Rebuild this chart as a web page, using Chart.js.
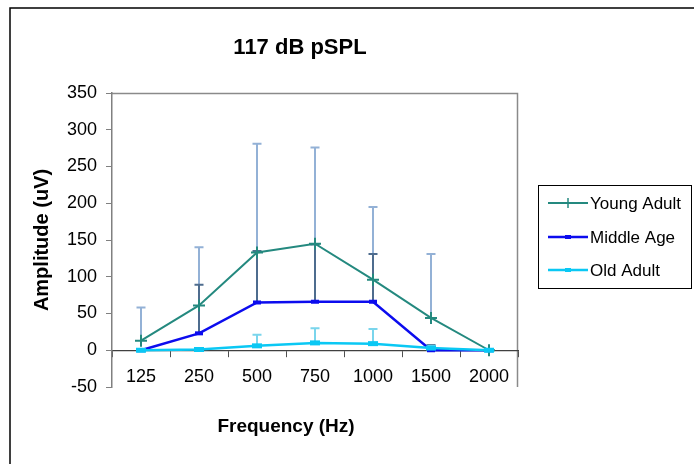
<!DOCTYPE html>
<html><head><meta charset="utf-8">
<script src="https://cdn.jsdelivr.net/npm/chart.js@4"></script>
<style>html,body{margin:0;padding:0;background:#fff}canvas{display:block}</style>
</head><body>
<canvas id="c" width="694" height="464"></canvas>
<script>
const categories = ['125', '250', '500', '750', '1000', '1500', '2000'];
const seriesNames = ['Young Adult', 'Middle Age', 'Old Adult'];
const youngAdult = [13, 61, 133, 145, 96, 44, 0];
const middleAge = [0, 23, 65, 66, 66, 0, 0];
const oldAdult = [0, 1, 6, 10, 9, 3, 0];
const youngAdultErr = [45, 79, 148, 131, 99, 87, 0];
const middleAgeErr = [0, 66, 70, 78, 65, 7, 0];
const oldAdultErr = [0, 0, 15, 20, 20, 3, 0];
const yMin = -50, yMax = 350, yStep = 50;
const chartTitle = '117 dB pSPL';
const xTitle = 'Frequency (Hz)';
const yTitle = 'Amplitude (uV)';

const FONT = "'Liberation Sans', Arial, sans-serif";
const colors = ['#24897F', '#0C0CEE', '#0AC8F4'];
const errColors = ['#93B1D6', '#4E6C8E', '#7AD5EC'];
const errors = [youngAdultErr, middleAgeErr, oldAdultErr];

const decorPlugin = {
  id: 'decor',
  beforeDraw(chart) {
    const ctx = chart.ctx;
    ctx.save();
    ctx.strokeStyle = '#000';
    ctx.lineWidth = 1.5;
    ctx.strokeRect(10, 8, 720, 500);
    const a = chart.chartArea;
    ctx.strokeStyle = '#8a8a8a';
    ctx.lineWidth = 1.5;
    ctx.beginPath();
    ctx.moveTo(a.left, a.top + 0.5);
    ctx.lineTo(a.right - 0.5, a.top + 0.5);
    ctx.lineTo(a.right - 0.5, a.bottom);
    ctx.stroke();
    ctx.restore();
  },
  beforeDatasetsDraw(chart) {
    const ctx = chart.ctx;
    const y = chart.scales.y;
    ctx.save();
    ctx.lineWidth = 2;
    for (let d = 0; d < errors.length; d++) {
      const meta = chart.getDatasetMeta(d);
      const vals = chart.data.datasets[d].data;
      ctx.strokeStyle = errColors[d];
      meta.data.forEach((pt, i) => {
        const e = errors[d][i];
        if (!e) return;
        const y0 = y.getPixelForValue(vals[i]);
        const y1 = y.getPixelForValue(vals[i] + e);
        const x = Math.round(pt.x);
        ctx.beginPath();
        ctx.moveTo(x, y0);
        ctx.lineTo(x, y1);
        ctx.moveTo(x - 4.5, y1);
        ctx.lineTo(x + 4.5, y1);
        ctx.stroke();
      });
    }
    ctx.restore();
  },
  afterDraw(chart) {
    const ctx = chart.ctx;
    const a = chart.chartArea;
    ctx.save();
    ctx.fillStyle = '#000';
    ctx.font = 'bold 22px ' + FONT;
    ctx.textAlign = 'center';
    ctx.textBaseline = 'alphabetic';
    ctx.fillText(chartTitle, 300, 54);
    ctx.font = 'bold 19px ' + FONT;
    ctx.fillText(xTitle, 286, 432);
    ctx.save();
    ctx.translate(48, (a.top + a.bottom) / 2);
    ctx.rotate(-Math.PI / 2);
    ctx.font = 'bold 20px ' + FONT;
    ctx.fillText(yTitle, 0, 0);
    ctx.restore();
    ctx.strokeStyle = '#000';
    ctx.lineWidth = 1;
    ctx.strokeRect(538.5, 185.5, 153, 103);
    const rows = [203, 237, 270];
    ctx.font = '17px ' + FONT;
    ctx.textAlign = 'left';
    ctx.textBaseline = 'middle';
    chart.data.datasets.forEach((ds, i) => {
      const yy = rows[i];
      ctx.strokeStyle = ds.borderColor;
      ctx.lineWidth = ds.borderWidth;
      ctx.beginPath();
      ctx.moveTo(548, yy);
      ctx.lineTo(588, yy);
      ctx.stroke();
      ctx.lineWidth = 1.5;
      if (i === 0) {
        ctx.beginPath();
        ctx.moveTo(568, yy - 5); ctx.lineTo(568, yy + 5);
        ctx.stroke();
      } else {
        ctx.fillStyle = ds.borderColor;
        ctx.fillRect(565, yy - 2, 6, 4);
      }
      ctx.fillStyle = '#000';
      ctx.fillText(ds.label, 590, yy + 1);
    });
    ctx.restore();
  }
};

new Chart(document.getElementById('c'), {
  type: 'line',
  data: {
    labels: categories,
    datasets: [
      { label: seriesNames[0], data: youngAdult, borderColor: colors[0], backgroundColor: colors[0],
        borderWidth: 2, pointStyle: 'cross', pointRadius: 6, pointBorderWidth: 2, order: 2, tension: 0 },
      { label: seriesNames[1], data: middleAge, borderColor: colors[1], backgroundColor: colors[1],
        borderWidth: 2.5, pointStyle: 'line', pointRadius: 4, pointBorderWidth: 4, order: 1, tension: 0 },
      { label: seriesNames[2], data: oldAdult, borderColor: colors[2], backgroundColor: colors[2],
        borderWidth: 2.5, pointStyle: 'line', pointRadius: 5, pointBorderWidth: 5, order: 0, tension: 0 }
    ]
  },
  options: {
    responsive: false,
    animation: false,
    devicePixelRatio: 1,
    layout: { padding: { left: 0, top: 93, right: 176, bottom: 77 } },
    plugins: { legend: { display: false }, title: { display: false }, tooltip: { enabled: false } },
    scales: {
      x: {
        type: 'category',
        position: { y: 0 },
        offset: true,
        grid: { offset: true, drawOnChartArea: false, drawTicks: true, tickLength: 6, color: '#505050', lineWidth: 1 },
        border: { color: '#404040', width: 1.2 },
        ticks: { color: '#000', font: { family: FONT, size: 18 }, padding: 10, maxRotation: 0, autoSkip: false }
      },
      y: {
        min: yMin, max: yMax,
        afterFit(scale) { scale.width = 112; },
        grid: { drawOnChartArea: false, drawTicks: true, tickLength: 6, color: '#808080' },
        border: { color: '#808080', width: 1.5 },
        ticks: { stepSize: yStep, color: '#000', font: { family: FONT, size: 18 }, padding: 9 }
      }
    }
  },
  plugins: [decorPlugin]
});
</script>
</body></html>
